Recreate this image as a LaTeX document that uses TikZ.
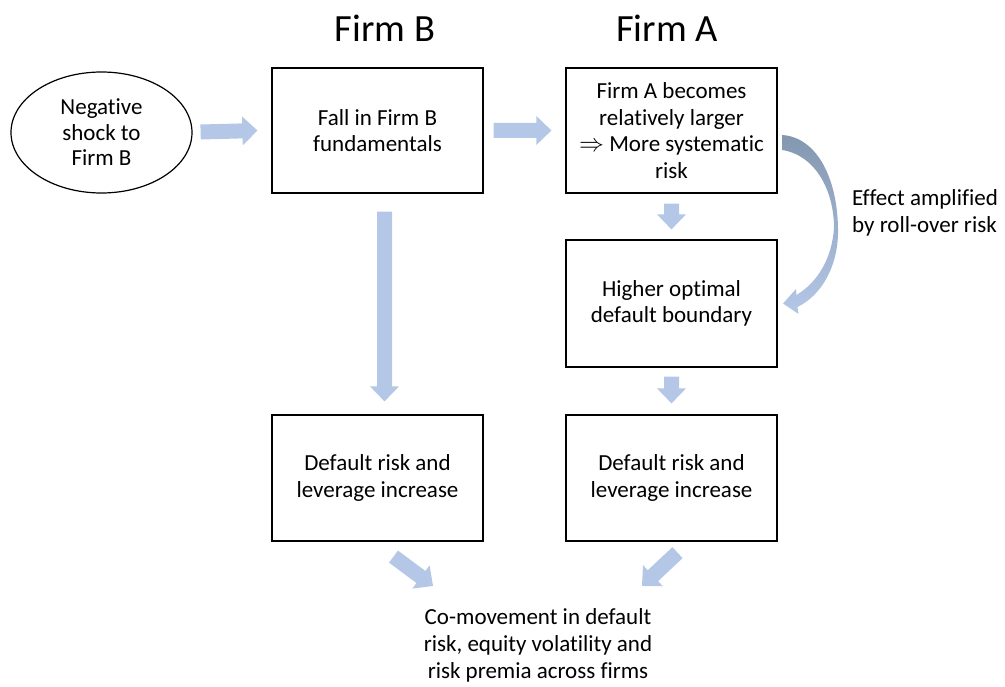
\documentclass[tikz,border=0pt]{standalone}
\usepackage{fontspec}
\setmainfont[Ligatures={CommonOff,ContextualOff,RareOff},Contextuals=AlternateOff]{Carlito}
\usetikzlibrary{calc,shapes.geometric}
\definecolor{fatc}{HTML}{B4C7E7}
\definecolor{curvtop}{HTML}{8497B0}
\tikzset{
  boxn/.style={draw=black,line width=1.2pt,minimum width=211pt,align=center,inner sep=0pt,font=\fontsize{23}{26.5}\selectfont},
  titlen/.style={font=\fontsize{38.5}{44}\selectfont,inner sep=0pt},
  plaintext/.style={align=center,inner sep=0pt,font=\fontsize{23}{27}\selectfont}
}
% fat block arrow from coordinate #1 to tip #2
\newcommand\fatarr[2]{%
  \fill[fatc]
    ($(#1)!7.5pt!90:(#2)$) --
    ($($(#2)!15pt!(#1)$)!7.5pt!-90:(#1)$) --
    ($($(#2)!15pt!(#1)$)!14.5pt!-90:(#1)$) --
    (#2) --
    ($($(#2)!15pt!(#1)$)!14.5pt!90:(#1)$) --
    ($($(#2)!15pt!(#1)$)!7.5pt!90:(#1)$) --
    ($(#1)!7.5pt!-90:(#2)$) -- cycle;}
\begin{document}
\begin{tikzpicture}[x=1pt,y=-1pt]
\useasboundingbox (0,0) rectangle (1005,687);
% titles
\node[titlen] (tB) at (385,28) {Firm B};
\node[titlen] (tA) at (667,28) {Firm A};
% nodes
\node[ellipse,draw=black,line width=1.2pt,minimum width=181pt,minimum height=121pt,inner sep=0pt,align=center,font=\fontsize{23}{25.5}\selectfont] (e) at (101.5,132.5) {Negative\\shock to\\Firm B};
\node[boxn,minimum height=125pt] (b1) at (377.5,130.5) {Fall in Firm B\\fundamentals};
\node[boxn,minimum height=125pt] (a1) at (671.5,130.5) {Firm A becomes\\relatively larger\\$\Rightarrow$ More systematic\\risk};
\node[boxn,minimum height=127pt] (a2) at (671.5,303.5) {Higher optimal\\default boundary};
\node[boxn,minimum height=126pt] (b3) at (377.5,478) {Default risk and\\leverage increase};
\node[boxn,minimum height=126pt] (a3) at (671.5,478) {Default risk and\\leverage increase};
\node[plaintext] (c) at (538,645) {Co-movement in default\\risk, equity volatility and\\risk premia across firms};
\node[plaintext,align=left,anchor=west] (lab) at (852,213) {Effect amplified\\by roll-over risk};
% connector end points
\coordinate (s1) at ($(e.east)+(8,-0.5)$);
\coordinate (t1) at ($(b1.west)+(-14,0)$);
\coordinate (s2) at ($(b1.east)+(10,0)$);
\coordinate (t2) at ($(a1.west)+(-14,0)$);
\coordinate (s3) at ($(b1.south)+(7,18)$);
\coordinate (t3) at ($(b3.north)+(7,-13)$);
\coordinate (s4) at ($(a1.south)+(0,10)$);
\coordinate (t4) at ($(a2.north)+(0,-10)$);
\coordinate (s5) at ($(a2.south)+(0,9)$);
\coordinate (t5) at ($(a3.north)+(0,-11)$);
\coordinate (s6) at ($(b3.south)+(16,15)$);
\coordinate (t6) at ($(c.north)+(-105,-22)$);
\coordinate (s7) at ($(a3.south)+(6,11)$);
\coordinate (t7) at ($(c.north)+(104,-22)$);
\fatarr{s1}{t1}
\fatarr{s2}{t2}
\fatarr{s3}{t3}
\fatarr{s4}{t4}
\fatarr{s5}{t5}
\fatarr{s6}{t6}
\fatarr{s7}{t7}
% curved arrow a1 -> a2
\coordinate (ca) at ($(a1.east)+(4.5,4.5)$);
\coordinate (cb) at ($(a2.east)+(5.5,0)$);
\shade[top color=curvtop,bottom color=fatc]
  (ca) .. controls +(33,2) and (837,175) .. (838,228)
  .. controls (839,265) and (822,295) .. (797.5,307)
  -- (798.5,314) -- (cb) -- (796,289) -- (796.5,295)
  .. controls (818,282) and (832,258) .. (834,228)
  .. controls (834,190) and (815,155) .. ($(ca)+(0,15)$) -- cycle;
\end{tikzpicture}
\end{document}
